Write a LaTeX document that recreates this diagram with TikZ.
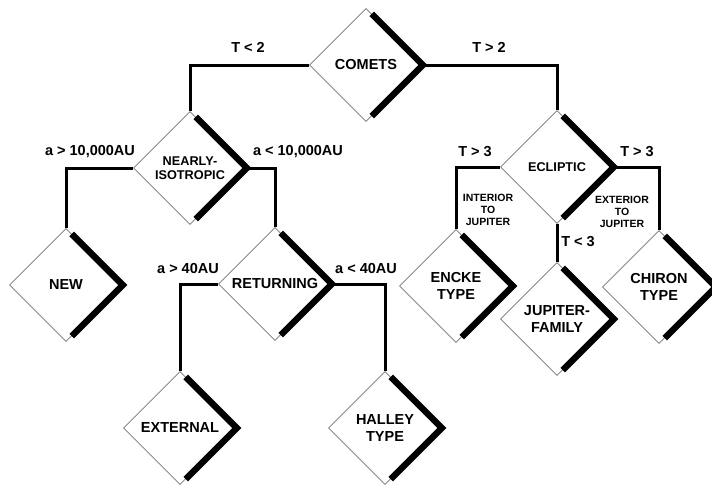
\documentclass[tikz,border=0pt]{standalone}
\usepackage{fontspec}
\setmainfont{Liberation Sans}
\usetikzlibrary{shapes.geometric,calc}
\begin{document}
\begin{tikzpicture}[x=1pt,y=-1pt,
  box/.style={diamond, aspect=1, minimum width=113pt, minimum height=113pt, inner sep=0pt,
    draw=black!55, line width=0.7pt, align=center, font=\bfseries\fontsize{14.5}{17}\selectfont},
  smallbox/.style={box, font=\bfseries\fontsize{12.7}{14}\selectfont},
  conn/.style={line width=3pt, line join=miter},
  shadowline/.style={line width=6.5pt, line join=miter, xshift=1.5pt},
  lab/.style={inner sep=0pt, font=\bfseries\fontsize{14.5}{17}\selectfont},
  tinylab/.style={inner sep=0pt, align=center, font=\bfseries\fontsize{10.5}{12}\selectfont}]
\useasboundingbox (0,0) rectangle (712,485);

\node[box] (comets) at (366,65) {COMETS};
\node[smallbox] (iso) at (190,168) {NEARLY-\\ISOTROPIC};
\node[smallbox] (ecl) at (557,167) {ECLIPTIC};
\node[box] (new) at (66,285) {NEW};
\node[box] (ret) at (275,284) {RETURNING};
\node[box] (encke) at (456,286) {ENCKE\\TYPE};
\node[box] (jup) at (557,319) {JUPITER-\\FAMILY};
\node[box] (chiron) at (659,287) {CHIRON\\TYPE};
\node[box] (ext) at (180,428) {EXTERNAL};
\node[box] (halley) at (385,428) {HALLEY\\TYPE};

\draw[conn] (comets.west) -| (iso.north);
\draw[conn] (comets.east) -| (ecl.north);
\draw[conn] (iso.west) -| (new.north);
\draw[conn] (iso.east) -| (ret.north);
\draw[conn] (ret.west) -| (ext.north);
\draw[conn] (ret.east) -| (halley.north);
\draw[conn] (ecl.west) -| (encke.north);
\draw[conn] (ecl.east) -| (chiron.north);
\draw[conn] (ecl.south) -- (jup.north);

\foreach \n in {comets,iso,ecl,new,ret,encke,jup,chiron,ext,halley}
  \draw[shadowline] ($(\n.north)!0.1!(\n.east)$) -- (\n.east) -- ($(\n.south)!0.1!(\n.east)$);

\node[lab] (l1) at (248,47) {T < 2};
\node[lab] (l2) at (489,47) {T > 2};
\node[lab] (l3) at (90,152) {a > 10,000AU};
\node[lab] (l4) at (298,152) {a < 10,000AU};
\node[lab] (l5) at (188,269) {a > 40AU};
\node[lab] (l6) at (366,269) {a < 40AU};
\node[lab] (l7) at (475,152) {T > 3};
\node[lab] (l8) at (637,152) {T > 3};
\node[lab] (l9) at (578,242) {T < 3};
\node[tinylab] (l10) at (488,210) {INTERIOR\\TO\\JUPITER};
\node[tinylab] (l11) at (622,212) {EXTERIOR\\TO\\JUPITER};
\end{tikzpicture}
\end{document}
